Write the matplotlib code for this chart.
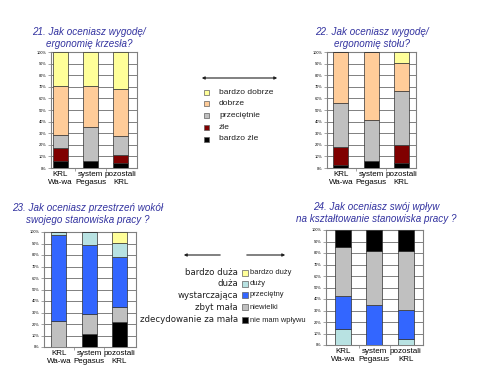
import numpy as np
import matplotlib.pyplot as plt
from matplotlib.patches import FancyArrowPatch, Rectangle

# -----------------------------------
# DATA
# -----------------------------------

groups = ["KRL\nWa-wa", "system\nPegasus", "pozostali\nKRL"]

# chart 21 / 22 (bottom -> top)
labels_q1 = ["bardzo źle", "źle", "przeciętnie", "dobrze", "bardzo dobrze"]
colors_q1 = ["#000000", "#800000", "#C0C0C0", "#FFCC99", "#FFFF99"]

q21 = [
    [6.3, 6.0, 4.0],     # bardzo źle
    [10.7, 0.0, 7.0],    # źle
    [11.7, 29.0, 17.0],  # przeciętnie
    [42.3, 35.7, 40.0],  # dobrze
    [29.0, 29.3, 32.0],  # bardzo dobrze
]

q22 = [
    [3.0, 6.0, 4.0],
    [15.0, 0.0, 15.5],
    [38.0, 35.0, 47.2],
    [44.0, 59.0, 23.8],
    [0.0, 0.0, 9.5],
]

# chart 23 (bottom -> top)
labels_q23 = ["zdecydowanie za mała", "zbyt mała", "wystarczająca", "duża", "bardzo duża"]
colors_q23 = ["#000000", "#C0C0C0", "#3366FF", "#B8E2E2", "#FFFF99"]

q23 = [
    [0.0, 11.5, 21.7],
    [22.5, 17.5, 12.7],
    [74.6, 59.4, 43.9],
    [2.9, 11.6, 12.5],
    [0.0, 0.0, 9.2],
]

# chart 24 (bottom -> top)
labels_q24 = ["duży", "przeciętny", "niewielki", "nie mam wpływu"]
colors_q24 = ["#B8E2E2", "#3366FF", "#C0C0C0", "#000000"]

q24 = [
    [13.6, 0.0, 5.0],
    [29.0, 34.8, 25.4],
    [42.9, 47.2, 51.0],
    [14.5, 18.0, 18.6],
]

legend_right = ["bardzo duży", "duży", "przeciętny", "niewielki", "nie mam wpływu"]

titles = [
    "21. Jak oceniasz wygodę/\nergonomię krzesła?",
    "22. Jak oceniasz wygodę/\nergonomię stołu?",
    "23. Jak oceniasz przestrzeń wokół\nswojego stanowiska pracy ?",
    "24. Jak oceniasz swój wpływ\nna kształtowanie stanowiska pracy ?",
]

# -----------------------------------
# FIGURE
# -----------------------------------

plt.rcParams['font.family'] = ['Liberation Sans', 'DejaVu Sans']

W, H = 480, 383
fig = plt.figure(figsize=(W / 100, H / 100), dpi=100)
fig.patch.set_facecolor("white")


def fx(x):
    return x / W


def fy(y):
    return 1 - y / H


def make_axes(left, top, right, bottom):
    return fig.add_axes([fx(left), fy(bottom), (right - left) / W, (bottom - top) / H])


def stacked(ax, data, colors, xlim):
    x = np.arange(len(groups))
    bottom = np.zeros(len(groups))
    for vals, c in zip(data, colors):
        vals = np.array(vals)
        ax.bar(x, vals, bottom=bottom, width=0.5, color=c,
               edgecolor="#303030", linewidth=0.5, zorder=3)
        bottom += vals
    ax.set_xlim(*xlim)
    ax.set_ylim(0, 100)
    ax.set_yticks(np.arange(0, 101, 10))
    ax.set_yticklabels([f"{v}%" for v in range(0, 101, 10)], fontsize=2.8)
    ax.yaxis.grid(True, color="#808080", linewidth=0.7, zorder=0)
    ax.set_axisbelow(True)
    ax.set_xticks(x)
    ax.set_xticklabels(groups, fontsize=5.8, linespacing=1.05)
    ax.tick_params(axis="x", length=0, pad=2.5)
    ax.tick_params(axis="y", length=2, width=0.5, pad=1, color="#808080")
    ax.set_xticks([0.5, 1.5], minor=True)
    ax.tick_params(axis="x", which="minor", length=2, width=0.5, color="#808080")
    for s in ax.spines.values():
        s.set_color("#808080")
        s.set_linewidth(0.8)


ax1 = make_axes(51, 52, 137, 168)
stacked(ax1, q21, colors_q1, (-0.31, 2.54))

ax2 = make_axes(327, 52, 416, 168)
stacked(ax2, q22, colors_q1, (-0.46, 2.48))

ax3 = make_axes(44, 232, 136, 347)
stacked(ax3, q23, colors_q23, (-0.49, 2.55))

ax4 = make_axes(326, 230, 423, 345)
stacked(ax4, q24, colors_q24, (-0.54, 2.55))

# -----------------------------------
# TITLES
# -----------------------------------

title_pos = [(89, 38), (372, 38), (88, 214), (376, 213)]
for t, (tx, ty) in zip(titles, title_pos):
    fig.text(fx(tx), fy(ty), t, ha="center", va="center", fontsize=7.1,
             style="italic", color="#3333A0", linespacing=1.15)

# -----------------------------------
# LEGEND 1
# -----------------------------------

fig.add_artist(FancyArrowPatch(
    (fx(199), fy(78)), (fx(280), fy(78)), transform=fig.transFigure,
    arrowstyle="<|-|>", mutation_scale=4, color="#202020", linewidth=0.8))

leg1_y = [92, 103.5, 115.5, 127.5, 139]
for lab, c, yy in zip(labels_q1[::-1], colors_q1[::-1], leg1_y):
    fig.add_artist(Rectangle((fx(204), fy(yy + 2.5)), 5 / W, 5 / H,
                             transform=fig.transFigure, facecolor=c,
                             edgecolor="#606060", linewidth=0.5))
    fig.text(fx(219), fy(yy), lab, ha="left", va="center", fontsize=6, color="#202020")

# -----------------------------------
# LEGEND 2
# -----------------------------------

fig.add_artist(FancyArrowPatch(
    (fx(223), fy(255)), (fx(181), fy(255)), transform=fig.transFigure,
    arrowstyle="-|>", mutation_scale=4, color="#202020", linewidth=0.8))
fig.add_artist(FancyArrowPatch(
    (fx(244), fy(255)), (fx(288), fy(255)), transform=fig.transFigure,
    arrowstyle="-|>", mutation_scale=4, color="#202020", linewidth=0.8))

leg2_y = [272.7, 283.5, 295, 307.3, 320]
for left_lab, right_lab, c, yy in zip(labels_q23[::-1], legend_right,
                                      colors_q23[::-1], leg2_y):
    fig.add_artist(Rectangle((fx(241.5), fy(yy + 3)), 6 / W, 6 / H,
                             transform=fig.transFigure, facecolor=c,
                             edgecolor="#606060", linewidth=0.5))
    fig.text(fx(238), fy(yy), left_lab, ha="right", va="center", fontsize=6.2,
             family=["DejaVu Sans"], color="#202020")
    fig.text(fx(250), fy(yy), right_lab, ha="left", va="center", fontsize=5.4, color="#202020")

fig.savefig("out.png", dpi=100)
